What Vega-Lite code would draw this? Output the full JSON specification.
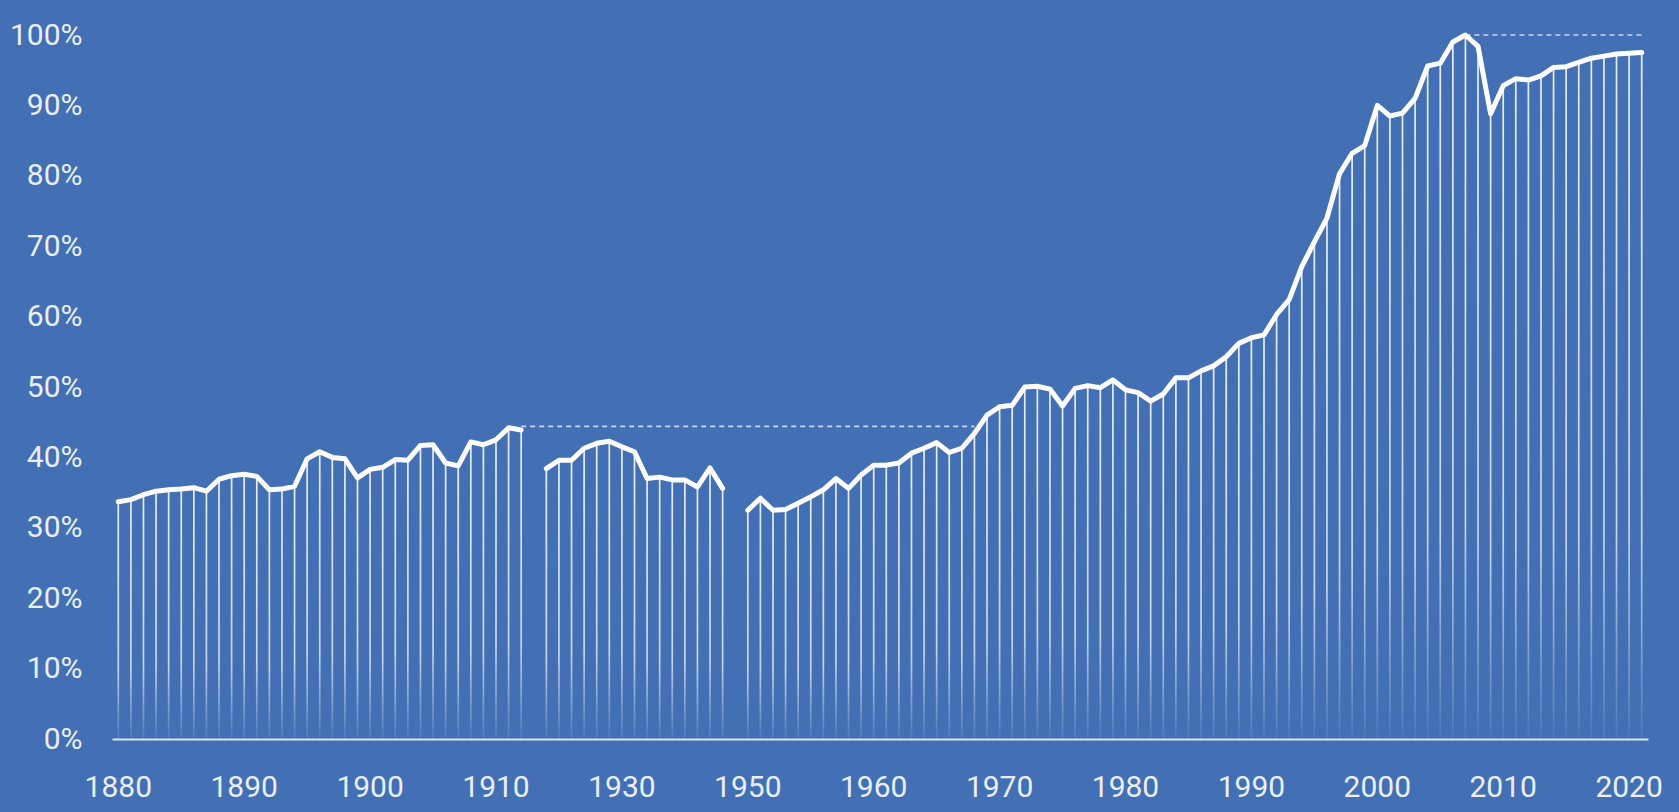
{
  "$schema": "https://vega.github.io/schema/vega-lite/v6.json",
  "width": 1536,
  "height": 704,
  "autosize": {"type": "none"},
  "padding": {"left": 112, "top": 35, "right": 31, "bottom": 73},
  "background": "#436FB5",
  "config": {
    "view": {"stroke": null},
    "axis": {"labelFont": "Roboto", "labelFontSize": 30, "labelColor": "#EAEFF6", "grid": false, "ticks": false, "tickSize": 0}
  },
  "datasets": {
    "series": [
      {"year": 1880, "v": 33.7, "seg": "a"}, {"year": 1881, "v": 34.0, "seg": "a"}, {"year": 1882, "v": 34.7, "seg": "a"},
      {"year": 1883, "v": 35.2, "seg": "a"}, {"year": 1884, "v": 35.4, "seg": "a"}, {"year": 1885, "v": 35.5, "seg": "a"},
      {"year": 1886, "v": 35.7, "seg": "a"}, {"year": 1887, "v": 35.2, "seg": "a"}, {"year": 1888, "v": 36.9, "seg": "a"},
      {"year": 1889, "v": 37.4, "seg": "a"}, {"year": 1890, "v": 37.6, "seg": "a"}, {"year": 1891, "v": 37.3, "seg": "a"},
      {"year": 1892, "v": 35.4, "seg": "a"}, {"year": 1893, "v": 35.5, "seg": "a"}, {"year": 1894, "v": 35.9, "seg": "a"},
      {"year": 1895, "v": 39.8, "seg": "a"}, {"year": 1896, "v": 40.8, "seg": "a"}, {"year": 1897, "v": 40.0, "seg": "a"},
      {"year": 1898, "v": 39.8, "seg": "a"}, {"year": 1899, "v": 37.1, "seg": "a"}, {"year": 1900, "v": 38.3, "seg": "a"},
      {"year": 1901, "v": 38.6, "seg": "a"}, {"year": 1902, "v": 39.7, "seg": "a"}, {"year": 1903, "v": 39.6, "seg": "a"},
      {"year": 1904, "v": 41.7, "seg": "a"}, {"year": 1905, "v": 41.8, "seg": "a"}, {"year": 1906, "v": 39.2, "seg": "a"},
      {"year": 1907, "v": 38.8, "seg": "a"}, {"year": 1908, "v": 42.2, "seg": "a"}, {"year": 1909, "v": 41.8, "seg": "a"},
      {"year": 1910, "v": 42.5, "seg": "a"}, {"year": 1911, "v": 44.2, "seg": "a"}, {"year": 1912, "v": 43.9, "seg": "a"},
      {"year": 1924, "v": 38.4, "seg": "b"}, {"year": 1925, "v": 39.6, "seg": "b"}, {"year": 1926, "v": 39.6, "seg": "b"},
      {"year": 1927, "v": 41.3, "seg": "b"}, {"year": 1928, "v": 42.0, "seg": "b"}, {"year": 1929, "v": 42.3, "seg": "b"},
      {"year": 1930, "v": 41.5, "seg": "b"}, {"year": 1931, "v": 40.8, "seg": "b"}, {"year": 1932, "v": 37.0, "seg": "b"},
      {"year": 1933, "v": 37.2, "seg": "b"}, {"year": 1934, "v": 36.8, "seg": "b"}, {"year": 1935, "v": 36.8, "seg": "b"},
      {"year": 1936, "v": 35.8, "seg": "b"}, {"year": 1937, "v": 38.5, "seg": "b"}, {"year": 1938, "v": 35.6, "seg": "b"},
      {"year": 1950, "v": 32.5, "seg": "c"}, {"year": 1951, "v": 34.2, "seg": "c"}, {"year": 1952, "v": 32.5, "seg": "c"},
      {"year": 1953, "v": 32.6, "seg": "c"}, {"year": 1954, "v": 33.5, "seg": "c"}, {"year": 1955, "v": 34.4, "seg": "c"},
      {"year": 1956, "v": 35.4, "seg": "c"}, {"year": 1957, "v": 37.0, "seg": "c"}, {"year": 1958, "v": 35.6, "seg": "c"},
      {"year": 1959, "v": 37.5, "seg": "c"}, {"year": 1960, "v": 38.9, "seg": "c"}, {"year": 1961, "v": 38.9, "seg": "c"},
      {"year": 1962, "v": 39.2, "seg": "c"}, {"year": 1963, "v": 40.6, "seg": "c"}, {"year": 1964, "v": 41.3, "seg": "c"},
      {"year": 1965, "v": 42.1, "seg": "c"}, {"year": 1966, "v": 40.7, "seg": "c"}, {"year": 1967, "v": 41.3, "seg": "c"},
      {"year": 1968, "v": 43.4, "seg": "c"}, {"year": 1969, "v": 46.0, "seg": "c"}, {"year": 1970, "v": 47.2, "seg": "c"},
      {"year": 1971, "v": 47.4, "seg": "c"}, {"year": 1972, "v": 50.0, "seg": "c"}, {"year": 1973, "v": 50.1, "seg": "c"},
      {"year": 1974, "v": 49.7, "seg": "c"}, {"year": 1975, "v": 47.3, "seg": "c"}, {"year": 1976, "v": 49.8, "seg": "c"},
      {"year": 1977, "v": 50.2, "seg": "c"}, {"year": 1978, "v": 49.9, "seg": "c"}, {"year": 1979, "v": 51.0, "seg": "c"},
      {"year": 1980, "v": 49.6, "seg": "c"}, {"year": 1981, "v": 49.2, "seg": "c"}, {"year": 1982, "v": 48.0, "seg": "c"},
      {"year": 1983, "v": 49.0, "seg": "c"}, {"year": 1984, "v": 51.3, "seg": "c"}, {"year": 1985, "v": 51.3, "seg": "c"},
      {"year": 1986, "v": 52.3, "seg": "c"}, {"year": 1987, "v": 53.0, "seg": "c"}, {"year": 1988, "v": 54.3, "seg": "c"},
      {"year": 1989, "v": 56.2, "seg": "c"}, {"year": 1990, "v": 57.0, "seg": "c"}, {"year": 1991, "v": 57.4, "seg": "c"},
      {"year": 1992, "v": 60.3, "seg": "c"}, {"year": 1993, "v": 62.4, "seg": "c"}, {"year": 1994, "v": 67.1, "seg": "c"},
      {"year": 1995, "v": 70.6, "seg": "c"}, {"year": 1996, "v": 74.0, "seg": "c"}, {"year": 1997, "v": 80.3, "seg": "c"},
      {"year": 1998, "v": 83.2, "seg": "c"}, {"year": 1999, "v": 84.3, "seg": "c"}, {"year": 2000, "v": 90.0, "seg": "c"},
      {"year": 2001, "v": 88.5, "seg": "c"}, {"year": 2002, "v": 88.9, "seg": "c"}, {"year": 2003, "v": 91.0, "seg": "c"},
      {"year": 2004, "v": 95.6, "seg": "c"}, {"year": 2005, "v": 96.0, "seg": "c"}, {"year": 2006, "v": 99.0, "seg": "c"},
      {"year": 2007, "v": 100.0, "seg": "c"}, {"year": 2008, "v": 98.4, "seg": "c"}, {"year": 2009, "v": 88.8, "seg": "c"},
      {"year": 2010, "v": 92.8, "seg": "c"}, {"year": 2011, "v": 93.8, "seg": "c"}, {"year": 2012, "v": 93.6, "seg": "c"},
      {"year": 2013, "v": 94.2, "seg": "c"}, {"year": 2014, "v": 95.4, "seg": "c"}, {"year": 2015, "v": 95.5, "seg": "c"},
      {"year": 2016, "v": 96.1, "seg": "c"}, {"year": 2017, "v": 96.7, "seg": "c"}, {"year": 2018, "v": 97.0, "seg": "c"},
      {"year": 2019, "v": 97.3, "seg": "c"}, {"year": 2020, "v": 97.4, "seg": "c"}, {"year": 2021, "v": 97.5, "seg": "c"}
    ],
    "peaks": [
      {"year": 1912, "v": 44.4, "seg": "p1"}, {"year": 1968, "v": 44.4, "seg": "p1"},
      {"year": 2007, "v": 100, "seg": "p2"}, {"year": 2021, "v": 100, "seg": "p2"}
    ]
  },
  "encoding": {
    "x": {
      "field": "year", "type": "ordinal", "title": null,
      "scale": {
        "type": "band", "paddingInner": 0, "paddingOuter": 0,
        "domain": [1880,1881,1882,1883,1884,1885,1886,1887,1888,1889,1890,1891,1892,1893,1894,1895,1896,1897,1898,1899,1900,1901,1902,1903,1904,1905,1906,1907,1908,1909,1910,1911,1912,1913,1924,1925,1926,1927,1928,1929,1930,1931,1932,1933,1934,1935,1936,1937,1938,1939,1950,1951,1952,1953,1954,1955,1956,1957,1958,1959,1960,1961,1962,1963,1964,1965,1966,1967,1968,1969,1970,1971,1972,1973,1974,1975,1976,1977,1978,1979,1980,1981,1982,1983,1984,1985,1986,1987,1988,1989,1990,1991,1992,1993,1994,1995,1996,1997,1998,1999,2000,2001,2002,2003,2004,2005,2006,2007,2008,2009,2010,2011,2012,2013,2014,2015,2016,2017,2018,2019,2020,2021]
      },
      "axis": {
        "values": [1880,1890,1900,1910,1930,1950,1960,1970,1980,1990,2000,2010,2020],
        "labelAngle": 0, "labelPadding": 33, "labelFlush": false, "labelOverlap": false,
        "domain": true, "domainColor": "#DCE3F0", "domainWidth": 2.2
      }
    },
    "y": {
      "field": "v", "type": "quantitative", "title": null,
      "scale": {"domain": [0, 100], "nice": false, "zero": true},
      "axis": {
        "values": [0,10,20,30,40,50,60,70,80,90,100],
        "labelExpr": "datum.value + '%'",
        "domain": false, "labelPadding": 30
      }
    }
  },
  "layer": [
    {
      "data": {"name": "series"},
      "mark": {
        "type": "bar",
        "size": 1.7,
        "fill": {
          "gradient": "linear", "x1": 0, "y1": 0, "x2": 0, "y2": 1,
          "stops": [
            {"offset": 0, "color": "rgba(255,255,255,0.88)"},
            {"offset": 0.7, "color": "rgba(255,255,255,0.7)"},
            {"offset": 1, "color": "rgba(255,255,255,0.06)"}
          ]
        }
      }
    },
    {
      "data": {"name": "peaks"},
      "mark": {"type": "line", "strokeDash": [5, 4], "strokeWidth": 1.6, "color": "rgba(225,233,246,0.85)"},
      "encoding": {"detail": {"field": "seg"}}
    },
    {
      "data": {"name": "series"},
      "mark": {"type": "line", "color": "#FFFFFF", "strokeWidth": 5, "strokeJoin": "round", "strokeCap": "round"},
      "encoding": {"detail": {"field": "seg"}}
    }
  ]
}
